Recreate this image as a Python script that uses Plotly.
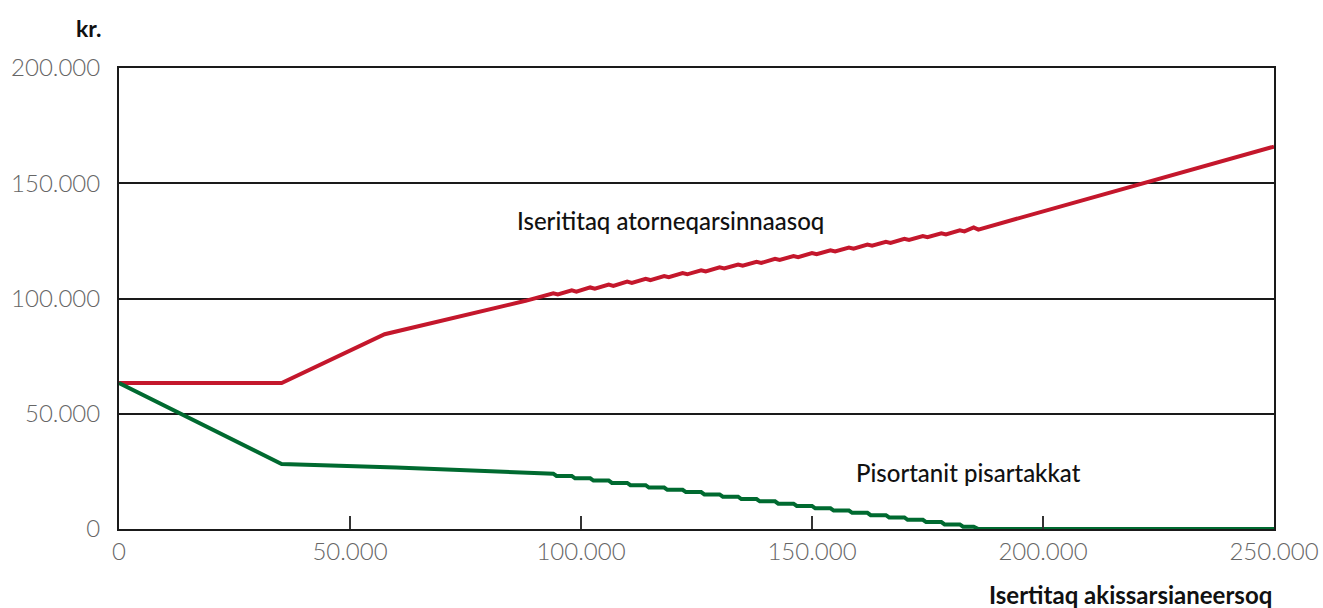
import plotly.graph_objects as go

# ---- data (kr.) ----
red_x = [0, 35200, 57500, 66000, 75000, 88000,
         94000, 95000, 98000, 99000, 102000, 103000, 106000, 107000, 110000, 111000,
         114000, 115000, 118000, 119000, 122000, 123000, 126000, 127000, 130000, 131000,
         134000, 135000, 138000, 139000, 142000, 143000, 146000, 147000, 150000, 151000,
         154000, 155000, 158000, 159000, 162000, 163000, 166000, 167000, 170000, 171000,
         174000, 175000, 178000, 179000, 182000, 183000, 185000, 186000, 250000]
red_y = [63300, 63300, 84500, 88600, 92600, 99000,
         102300, 101800, 103500, 103000, 104800, 104300, 106000, 105500, 107300, 106800,
         108500, 108000, 109700, 109200, 111000, 110500, 112200, 111700, 113500, 113000,
         114700, 114200, 115900, 115400, 117200, 116700, 118400, 117900, 119700, 119200,
         120900, 120400, 122100, 121600, 123400, 122900, 124600, 124100, 125900, 125400,
         127100, 126600, 128300, 127800, 129600, 129100, 130800, 129900, 165900]

green_x = [0, 35200, 60000, 80000,
           94000, 94700, 98000, 98700, 102000, 102700, 106000, 106700, 110000, 110700,
           114000, 114700, 118000, 118700, 122000, 122700, 126000, 126700, 130000, 130700,
           134000, 134700, 138000, 138700, 142000, 142700, 146000, 146700, 150000, 150700,
           154000, 154700, 158000, 158700, 162000, 162700, 166000, 166700, 170000, 170700,
           174000, 174700, 178000, 178700, 182000, 182700, 185000, 186000, 250000]
green_y = [63300, 28200, 26700, 25300,
           24000, 23000, 23000, 22000, 22000, 21000, 21000, 20000, 20000, 19000,
           19000, 18000, 18000, 17000, 17000, 16000, 16000, 15000, 15000, 14000,
           14000, 13000, 13000, 12000, 12000, 11000, 11000, 10000, 10000, 9000,
           9000, 8000, 8000, 7000, 7000, 6000, 6000, 5000, 5000, 4000,
           4000, 3000, 3000, 2000, 2000, 1000, 1000, 0, 0]

x_ticks = [0, 50000, 100000, 150000, 200000, 250000]
y_ticks = [0, 50000, 100000, 150000, 200000]

red_label = "Iserititaq atorneqarsinnaasoq"
green_label = "Pisortanit pisartakkat"
y_unit = "kr."
x_title = "Isertitaq akissarsianeersoq"

RED = "#C4172C"
GREEN = "#006A30"
FONT = "Lato"

fig = go.Figure()
fig.add_trace(go.Scatter(x=red_x, y=red_y, mode="lines",
                         line=dict(color=RED, width=4), showlegend=False, hoverinfo="skip"))
fig.add_trace(go.Scatter(x=green_x, y=green_y, mode="lines",
                         line=dict(color=GREEN, width=4), showlegend=False, hoverinfo="skip"))

fig.update_layout(
    width=1323, height=608,
    margin=dict(l=119, r=49, t=68, b=79, autoexpand=False),
    paper_bgcolor="white", plot_bgcolor="white",
    separators=",.",
    showlegend=False,
    font=dict(family=FONT),
)

fig.update_xaxes(
    range=[0, 250000], tickvals=x_ticks, tickformat=",d",
    showgrid=False, zeroline=False, automargin=False,
    showline=True, linecolor="#1a1a1a", linewidth=2, mirror=True,
    ticks="inside", ticklen=13, tickwidth=1.5, tickcolor="#333",
    tickfont=dict(family=FONT, size=24, color="#666", weight=300),
    ticklabelstandoff=0,
)
fig.update_yaxes(
    range=[0, 200000], tickvals=y_ticks, tickformat=",d",
    showgrid=True, gridcolor="#1a1a1a", gridwidth=1.5,
    zeroline=False, automargin=False,
    showline=True, linecolor="#1a1a1a", linewidth=2, mirror=True,
    ticks="",
    tickfont=dict(family=FONT, size=24, color="#666", weight=300),
    ticklabelstandoff=12,
)

fig.add_annotation(x=119300, y=134000, xref="x", yref="y", text=red_label,
                   showarrow=False, font=dict(family=FONT, size=24, color="#111", weight=500))
fig.add_annotation(x=183800, y=24700, xref="x", yref="y", text=green_label,
                   showarrow=False, font=dict(family=FONT, size=24, color="#111", weight=500))
fig.add_annotation(x=-0.0139, y=1.0868, xref="paper", yref="paper", text=y_unit,
                   xanchor="right", yanchor="middle", showarrow=False,
                   font=dict(family=FONT, size=23, color="#111", weight=700))
fig.add_annotation(x=1.0, y=-0.143, xref="paper", yref="paper", text=x_title,
                   xanchor="right", yanchor="middle", showarrow=False,
                   font=dict(family=FONT, size=24, color="#111", weight=700))

fig.write_html("out.html", config={"displayModeBar": False},
               post_script="document.body.style.margin='0';document.body.style.overflow='hidden';")
